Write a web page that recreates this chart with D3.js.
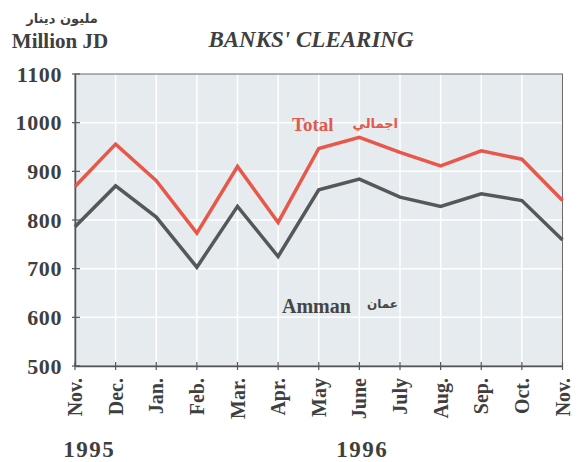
<!DOCTYPE html>
<html><head><meta charset="utf-8">
<script src="https://cdn.jsdelivr.net/npm/d3@7"></script>
<style>
body{margin:0;background:#fff}svg{display:block}
.serif{font-family:"Liberation Serif","Times New Roman","DejaVu Serif",serif;font-weight:bold}
.arabic{font-family:"DejaVu Sans","Noto Sans",sans-serif;font-weight:bold}
</style>
</head><body>
<script>
const months = ["Nov.","Dec.","Jan.","Feb.","Mar.","Apr.","May","June","July","Aug.","Sep.","Oct.","Nov."];
const totalValues = [869,956,881,773,910,795,947,970,939,911,942,925,840];
const ammanValues = [786,870,806,703,828,725,862,884,847,828,854,840,759];
const yTicks = [500,600,700,800,900,1000,1100];
const years = [{label:"1995", at:0.35},{label:"1996", at:7.07}];

const W=587,H=462;
const svg=d3.select("body").append("svg").attr("width",W).attr("height",H);
const L=75,R=562.5,T=74,B=366;
const x=d3.scalePoint().domain(d3.range(months.length)).range([L,R]);
const y=d3.scaleLinear().domain([500,1100]).range([B,T]);
const textCol="#3f3f3f";

svg.append("rect").attr("x",L).attr("y",T).attr("width",R-L).attr("height",B-T).attr("fill","#e5ebee");
// grid
svg.append("g").selectAll("line").data(yTicks.slice(1,-1)).join("line")
  .attr("x1",L).attr("x2",R).attr("y1",d=>y(d)).attr("y2",d=>y(d))
  .attr("stroke","#fff").attr("stroke-width",1.5);
svg.append("g").selectAll("line").data(d3.range(1,months.length-1)).join("line")
  .attr("x1",d=>x(d)).attr("x2",d=>x(d)).attr("y1",T).attr("y2",B)
  .attr("stroke","#fff").attr("stroke-width",1.5);
// frame
svg.append("rect").attr("x",L).attr("y",T).attr("width",R-L).attr("height",B-T)
  .attr("fill","none").attr("stroke","#6a6a6a").attr("stroke-width",1);

// axes
const yAxis=d3.axisLeft(y).tickValues(yTicks).tickSize(0).tickPadding(13).tickFormat(d3.format("d"));
const gy=svg.append("g").attr("transform",`translate(${L},0)`).call(yAxis);
gy.attr("font-family",null).attr("font-size",null);
gy.select(".domain").attr("stroke","#555").attr("stroke-width",1.5);
gy.selectAll("text").attr("class","serif").style("font-size","22px").style("letter-spacing","0.6px").attr("fill",textCol);
svg.append("g").selectAll("line").data(yTicks).join("line")
  .attr("x1",L-3).attr("x2",L+5).attr("y1",d=>y(d)).attr("y2",d=>y(d)).attr("stroke","#555").attr("stroke-width",1.2);

const xAxis=d3.axisBottom(x).tickSize(0).tickFormat(i=>months[i]);
const gx=svg.append("g").attr("transform",`translate(0,${B})`).call(xAxis);
gx.attr("font-family",null).attr("font-size",null);
gx.select(".domain").attr("stroke","#555").attr("stroke-width",1.5);
gx.selectAll("text").attr("class","serif").style("font-size","20px").attr("fill",textCol)
  .attr("transform","rotate(-90)").attr("text-anchor","end").attr("x",-12).attr("y",0).attr("dy","0.33em");
svg.append("g").selectAll("line").data(d3.range(months.length)).join("line")
  .attr("x1",d=>x(d)).attr("x2",d=>x(d)).attr("y1",B-4).attr("y2",B+4).attr("stroke","#555").attr("stroke-width",1.2);

// lines
const line=d3.line().x((d,i)=>x(i)).y(d=>y(d));
svg.append("path").datum(ammanValues).attr("d",line).attr("fill","none").attr("stroke","#555859").attr("stroke-width",3.5).attr("stroke-linejoin","miter");
svg.append("path").datum(totalValues).attr("d",line).attr("fill","none").attr("stroke","#e8584a").attr("stroke-width",3.5).attr("stroke-linejoin","miter");

// labels
svg.append("text").attr("class","serif").attr("x",292).attr("y",131).style("font-size","19px").attr("fill","#df5a4c").text("Total");
svg.append("text").attr("class","arabic").attr("x",398).attr("y",128).attr("text-anchor","end").style("font-size","13px").attr("fill","#df5a4c").text("اجمالي");
svg.append("text").attr("class","serif").attr("x",282).attr("y",313).style("font-size","20px").attr("fill","#454545").text("Amman");
svg.append("text").attr("class","arabic").attr("x",398).attr("y",308).attr("text-anchor","end").style("font-size","12px").attr("fill","#454545").text("عمان");

// titles
svg.append("text").attr("class","serif").attr("x",311).attr("y",47).attr("text-anchor","middle").style("font-style","italic").style("font-size","23px").attr("fill",textCol).text("BANKS' CLEARING");
svg.append("text").attr("class","serif").attr("x",60).attr("y",48).attr("text-anchor","middle").style("font-size","21px").attr("fill",textCol).text("Million JD");
svg.append("text").attr("class","arabic").attr("x",62).attr("y",23).attr("text-anchor","middle").style("font-size","13px").attr("fill",textCol).text("مليون دينار");

// years
svg.append("g").selectAll("text").data(years).join("text").attr("class","serif")
  .attr("x",d=>x(0)+(x(1)-x(0))*d.at).attr("y",457).attr("text-anchor","middle")
  .style("font-size","23px").style("letter-spacing","1.5px").attr("fill",textCol).text(d=>d.label);
</script>
</body></html>
